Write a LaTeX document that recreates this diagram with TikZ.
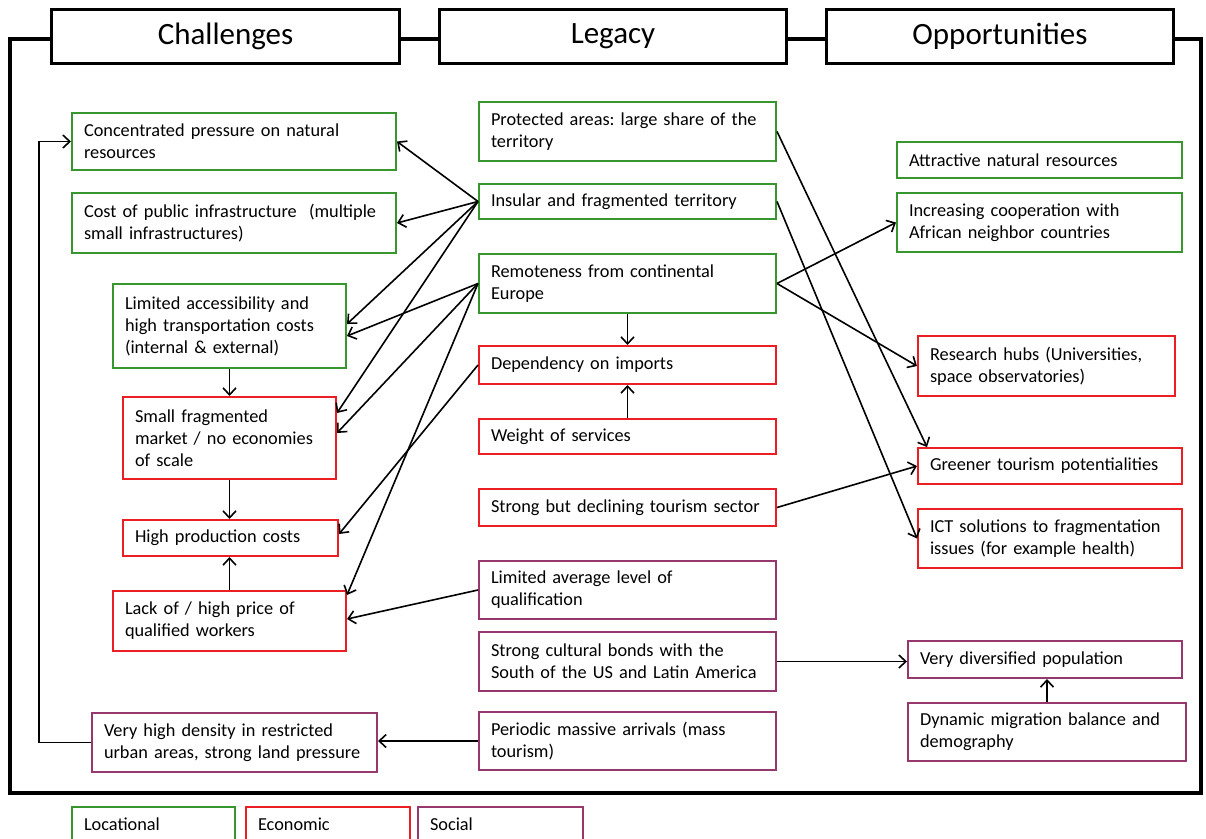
\documentclass[tikz,border=0pt]{standalone}
\usepackage{fontspec}
\setmainfont{Carlito}
\usetikzlibrary{arrows.meta}
\frenchspacing
\hyphenpenalty=10000
\exhyphenpenalty=10000

\definecolor{locgreen}{RGB}{55,150,45}
\definecolor{ecored}{RGB}{235,30,35}
\definecolor{socpurple}{RGB}{150,55,110}

\tikzset{
  box/.style={draw=#1, line width=2, fill=white, anchor=north west,
    inner xsep=12, inner ysep=0, align=left,
    font=\fontsize{18.3}{22}\selectfont},
  head/.style={draw, line width=3, fill=white, anchor=north west,
    minimum height=54, font=\fontsize{31}{36}\selectfont},
  link/.style={->, line width=1.6},
  >={Straight Barb[length=7pt,width=13pt]}
}

\begin{document}
\begin{tikzpicture}[x=1pt, y=-1pt]
  \useasboundingbox (0,0) rectangle (1206,838);
  \clip (0,0) rectangle (1206,838);

  % frame and column titles
  \draw[line width=3.5] (10,39) rectangle (1201,793);
  \node[head, minimum width=348] (hch) at (50,8) {Challenges};
  \node[head, minimum width=347] (hlg) at (438,8) {Legacy};
  \node[head, minimum width=347] (hop) at (825,8) {Opportunities};

  % challenges
  \node[box=locgreen, minimum width=324, minimum height=57, text width=300] (conc) at (71,112)
    {Concentrated pressure on natural\\resources};
  \node[box=locgreen, minimum width=324, minimum height=60, text width=300] (cost) at (71,192)
    {Cost of public infrastructure~ (multiple\\small infrastructures)};
  \node[box=locgreen, minimum width=233, minimum height=84, text width=209] (lacc) at (112,283)
    {Limited accessibility and\\high transportation costs\\(internal \& external)};
  \node[box=ecored, minimum width=213, minimum height=82, text width=189] (smf) at (122,396)
    {Small fragmented\\market / no economies\\of scale};
  \node[box=ecored, minimum width=215, minimum height=36, text width=191] (hpc) at (122,519)
    {High production costs};
  \node[box=ecored, minimum width=233, minimum height=60, text width=209] (lqw) at (112,590)
    {Lack of / high price of\\qualified workers};
  \node[box=socpurple, minimum width=285, minimum height=59, text width=261] (vhd) at (91,712)
    {Very high density in restricted\\urban areas, strong land pressure};

  % legacy
  \node[box=locgreen, minimum width=297, minimum height=59, text width=273] (prot) at (478,101)
    {Protected areas: large share of the\\territory};
  \node[box=locgreen, minimum width=297, minimum height=35, text width=273] (ins) at (478,183)
    {Insular and fragmented territory};
  \node[box=locgreen, minimum width=297, minimum height=59, text width=273] (rem) at (478,253)
    {Remoteness from continental\\Europe};
  \node[box=ecored, minimum width=297, minimum height=38, text width=273] (dep) at (478,345)
    {Dependency on imports};
  \node[box=ecored, minimum width=297, minimum height=35, text width=273] (wos) at (478,418)
    {Weight of services};
  \node[box=ecored, minimum width=297, minimum height=37, text width=273] (sbd) at (478,488)
    {Strong but declining tourism sector};
  \node[box=socpurple, minimum width=297, minimum height=58, text width=273] (lal) at (478,560)
    {Limited average level of\\qualification};
  \node[box=socpurple, minimum width=297, minimum height=59, text width=273] (scb) at (478,631)
    {Strong cultural bonds with the\\South of the US and Latin America};
  \node[box=socpurple, minimum width=297, minimum height=58, text width=273] (pma) at (478,711)
    {Periodic massive arrivals (mass\\tourism)};

  % opportunities
  \node[box=locgreen, minimum width=285, minimum height=36, text width=261] (anr) at (896,141)
    {Attractive natural resources};
  \node[box=locgreen, minimum width=285, minimum height=59, text width=261] (icw) at (896,192)
    {Increasing cooperation with\\African neighbor countries};
  \node[box=ecored, minimum width=257, minimum height=60, text width=233] (rhu) at (917,335)
    {Research hubs (Universities,\\space observatories)};
  \node[box=ecored, minimum width=264, minimum height=36, text width=240] (gtp) at (917,447)
    {Greener tourism potentialities};
  \node[box=ecored, minimum width=264, minimum height=59, text width=240] (ict) at (917,508)
    {ICT solutions to fragmentation\\issues (for example health)};
  \node[box=socpurple, minimum width=274, minimum height=37, text width=250] (vdp) at (907,640)
    {Very diversified population};
  \node[box=socpurple, minimum width=278, minimum height=58, text width=254] (dmb) at (907,702)
    {Dynamic migration balance and\\demography};

  % legend
  \node[box=locgreen, minimum width=163, minimum height=34, text width=139] (lgl) at (71,806) {Locational};
  \node[box=ecored, minimum width=164, minimum height=34, text width=140] (lge) at (245,806) {Economic};
  \node[box=socpurple, minimum width=165, minimum height=34, text width=141] (lgs) at (417,806) {Social};

  % links to challenges
  \draw[link] (ins.west) -- (conc.east);
  \draw[link] (ins.west) -- (cost.east);
  \draw[link] (ins.west) -- ([yshift=2]lacc.east);
  \draw[link] (ins.west) -- ([yshift=25]smf.east);
  \draw[link] (rem.west) -- ([yshift=-10]lacc.east);
  \draw[link] (rem.west) -- ([yshift=5]smf.east);
  \draw[link] (rem.west) -- ([yshift=-5]lqw.north east);
  \draw[link] (dep.west) -- ([yshift=4]hpc.east);
  \draw[link] (lal.west) -- ([yshift=2]lqw.east);
  \draw[link] (lacc.south) -- (smf.north);
  \draw[link] (smf.south) -- (smf.south |- hpc.north);
  \draw[link] (lqw.north) -- (lqw.north |- hpc.south);
  \draw[link] (pma.west) -- (pma.west -| vhd.east);
  \coordinate (back) at (39,0);
  \draw[link] (vhd.west) -- (vhd.west -| back) |- (conc.west);

  % links inside legacy
  \draw[link] (rem.south) -- (dep.north);
  \draw[link] (wos.north) -- (dep.south);

  % links to opportunities
  \draw[link] (prot.east) -- ([xshift=10]gtp.north west);
  \draw[link] (ins.east) -- (ict.west);
  \draw[link] (rem.east) -- (icw.west);
  \draw[link] (rem.east) -- (rhu.west);
  \draw[link] (sbd.east) -- (gtp.west);
  \draw[link] (scb.east) -- (scb.east -| vdp.west);
  \draw[link] (dmb.north) -- (dmb.north |- vdp.south);
\end{tikzpicture}
\end{document}
